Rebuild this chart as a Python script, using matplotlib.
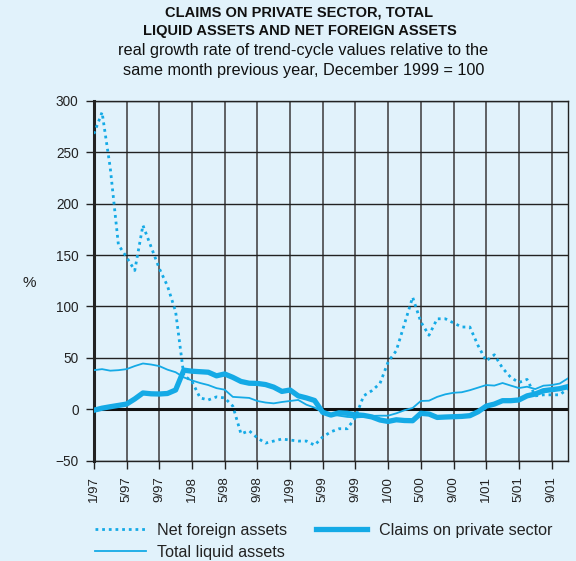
import numpy as np
import matplotlib
matplotlib.use('Agg')
import matplotlib.pyplot as plt

plt.rcParams['font.family'] = ['Liberation Sans', 'DejaVu Sans']

# monthly data, 1/97 .. 11/01
months = np.arange(59)
tick_labels = ['1/97', '5/97', '9/97', '1/98', '5/98', '9/98', '1/99', '5/99',
               '9/99', '1/00', '5/00', '9/00', '1/01', '5/01', '9/01']

net_foreign = [268, 289, 235, 160, 148, 135, 179, 158, 137, 120,
               95, 33, 27, 11, 9, 12, 11, 3, -24, -21,
               -28, -33, -31, -29, -30, -31, -31, -35, -27, -22,
               -19, -19, -8, 13, 18, 25, 46, 57, 83, 109,
               85, 72, 88, 88, 84, 80, 80, 62, 47, 53,
               40, 31, 26, 29, 13, 14, 14, 14, 20]

total_liquid = [38, 39, 37.5, 38, 39, 42, 44.5, 43.5, 42, 38.5,
                36, 31, 28, 25.5, 23.5, 20.5, 19, 12, 11.5, 11,
                8, 6.5, 5.7, 7, 8, 9, 4.4, 1.5, -3, -5,
                -6.3, -7.5, -8, -7.5, -6.5, -6.3, -6.3, -4, -1, 1.2,
                8, 8.3, 12, 14.5, 16, 16.5, 18.5, 21, 23.5, 23,
                25.5, 23, 20.6, 21.9, 19.6, 22.9, 23.5, 25, 30]

claims = [-1, 1, 2.4, 3.7, 5, 10, 15.8, 15, 14.8, 15.3,
          18.7, 38, 37, 36.5, 36, 32.5, 34.3, 31, 27, 25.3,
          25.1, 24, 21.5, 17.3, 18.7, 13, 11, 8.5, -3, -5.7,
          -3.5, -4, -5.4, -6, -7.5, -10.5, -11.9, -10.3, -11, -11.2,
          -4, -4.7, -8, -7.6, -7.3, -7, -6.3, -2.5, 3, 5,
          8.3, 8.3, 9, 13, 14.8, 18, 19, 20, 22]

bg = '#E1F2FB'
blue = '#14AAE6'

fig = plt.figure(figsize=(5.76, 5.61), dpi=100, facecolor=bg)
ax = fig.add_axes([0.163, 0.179, 0.823, 0.641], facecolor=bg)

# grid
for m in range(0, 59, 4):
    ax.axvline(m, color='#3a3a3a', lw=1.1, zorder=1)
for v in range(-50, 301, 50):
    ax.axhline(v, color='#222222', lw=1.0, zorder=1)
ax.axhline(0, color='#111111', lw=2.2, zorder=1)

ax.plot(months, net_foreign, color=blue, lw=2.0, linestyle=(0, (1, 1.4)),
        label='Net foreign assets', zorder=3)
ax.plot(months, total_liquid, color=blue, lw=1.3,
        label='Total liquid assets', zorder=3)
ax.plot(months, claims, color=blue, lw=3.8,
        label='Claims on private sector', zorder=4)

ax.set_xlim(0, 58)
ax.set_ylim(-50, 300)
ax.set_xticks(range(0, 59, 4))
ax.set_xticklabels(tick_labels, rotation=90, fontsize=9.5, color='#222222')
ax.set_yticks(range(-50, 301, 50))
ax.set_yticklabels(['\u221250', '0', '50', '100', '150', '200', '250', '300'],
                   fontsize=9.8, color='#222222')
ax.tick_params(axis='both', length=6, width=1, color='#222222', pad=5)

for s in ax.spines.values():
    s.set_color('#222222')
    s.set_linewidth(1.0)
ax.spines['left'].set_linewidth(2.2)

fig.text(0.05, 0.495, '%', fontsize=11, color='#222222', ha='center', va='center')

fig.text(0.52, 0.977, 'CLAIMS ON PRIVATE SECTOR, TOTAL', fontsize=10.5,
         fontweight='bold', ha='center', va='center', color='#111111')
fig.text(0.52, 0.945, 'LIQUID ASSETS AND NET FOREIGN ASSETS', fontsize=10.5,
         fontweight='bold', ha='center', va='center', color='#111111')
fig.text(0.527, 0.910, 'real growth rate of trend-cycle values relative to the',
         fontsize=11.7, ha='center', va='center', color='#111111')
fig.text(0.527, 0.874, 'same month previous year, December 1999 = 100',
         fontsize=11.7, ha='center', va='center', color='#111111')

handles, labels = ax.get_legend_handles_labels()
leg = fig.legend(handles, labels, ncol=2, loc='upper left',
                 bbox_to_anchor=(0.153, 0.079), frameon=False, fontsize=11.6,
                 handlelength=3.2, handletextpad=0.7, columnspacing=1.75,
                 labelspacing=0.4, borderaxespad=0)
for t in leg.get_texts():
    t.set_color('#222222')

fig.savefig('out.png', dpi=100, facecolor=bg)
